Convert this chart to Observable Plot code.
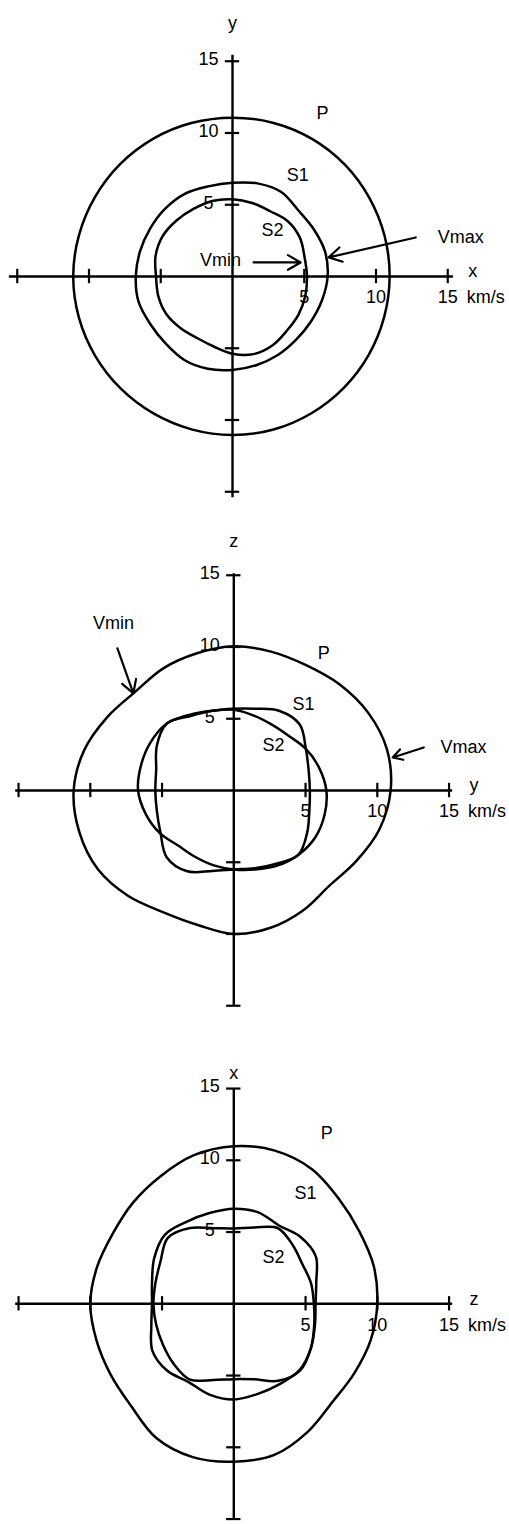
<!DOCTYPE html>
<html><head><meta charset="utf-8">
<script src="https://cdn.jsdelivr.net/npm/d3@7"></script>
<script src="https://cdn.jsdelivr.net/npm/@observablehq/plot@0.6"></script>
<style>
body{margin:0;background:#fff;}
#chart{width:509px;}
#chart svg{display:block;}
</style></head><body><div id="chart"></div>
<script>
// Direction of each velocity sample (degrees, counter-clockwise from the horizontal axis)
const angles = d3.range(0, 360, 15);

// Panel 1: x-y plane (km/s)
const xyP  = [10.95,10.97,11.0,11.05,11.08,11.08,11.07,11.07,11.08,11.08,11.07,11.08,11.1,11.08,11.05,11.03,11.02,11.03,11.05,11.04,11.0,10.97,10.95,10.94];
const xyS1 = [6.63,6.68,6.55,6.5,6.8,6.72,6.53,6.5,6.65,6.66,6.64,6.68,6.74,6.78,6.62,6.6,6.72,6.66,6.51,6.4,6.32,6.25,6.3,6.45];
const xyS2 = [5.19,5.2,5.42,5.45,5.25,5.3,5.38,5.45,5.44,5.52,5.62,5.55,5.33,5.35,5.3,5.1,4.95,5.05,5.38,5.6,5.55,5.35,5.31,5.25];
// Panel 2: y-z plane
const yzP  = [10.93,11.05,10.82,10.44,10.08,10.02,10.05,9.9,9.83,9.72,10.2,10.8,11.16,11.15,10.95,10.4,9.8,9.7,10.0,9.9,9.65,9.4,9.85,10.5];
const yzS1 = [6.45,6.15,5.8,5.4,5.3,5.4,5.62,5.75,6.1,6.6,6.7,6.7,6.67,6.35,5.95,5.45,5.35,5.4,5.5,5.7,6.05,6.35,6.55,6.55];
const yzS2 = [5.3,5.4,5.8,6.5,6.4,5.9,5.7,5.75,6.0,6.6,6.2,5.6,5.47,5.55,5.9,6.6,6.5,5.8,5.5,5.6,5.9,6.35,5.9,5.45];
// Panel 3: z-x plane
const zxP  = [10.0,10.1,10.1,10.35,10.85,11.05,10.98,10.72,10.25,9.95,9.75,9.87,10.0,9.9,9.9,10.1,10.8,11.06,11.0,10.9,10.3,9.7,9.69,9.87];
const zxS1 = [5.7,5.95,6.6,6.58,6.3,6.6,6.63,6.55,6.6,6.8,6.4,5.9,5.7,5.95,6.55,6.58,6.3,6.55,6.67,6.5,6.45,6.5,6.2,5.85];
const zxS2 = [5.58,5.57,5.52,5.8,6.1,5.5,5.25,5.45,6.1,6.5,5.9,5.65,5.6,5.6,5.7,5.92,6.1,5.5,5.25,5.45,6.2,6.55,6.2,5.8];

const ticks = [-15,-10,-5,5,10,15];
const tickLabels = [5,10,15];
const unitLabel = "km/s";

function toXY(vals){
  return vals.map((v,i)=>({x: v*Math.cos(angles[i]*Math.PI/180), y: v*Math.sin(angles[i]*Math.PI/180)}));
}

function panel(o){
  const k = 14.35;
  const [ox, oy] = o.origin;
  const marks = [
    Plot.ruleY([0], {x1: o.hExt[0], x2: o.hExt[1], strokeWidth: 2.4}),
    Plot.ruleX([0], {y1: o.vExt[0], y2: o.vExt[1], strokeWidth: 2.4}),
    Plot.ruleX(ticks, {y1: -0.5, y2: 0.5, strokeWidth: 2.2}),
    Plot.ruleY(ticks, {x1: -0.5, x2: 0.5, strokeWidth: 2.2}),
    Plot.text(tickLabels, {x: d=>d, y: 0, dy: 21, text: d=>String(d)}),
    Plot.text(tickLabels, {x: 0, y: d=>d, dx: -24, dy: -2, text: d=>String(d)}),
    Plot.text([unitLabel], {x: 15, y: 0, dx: 57, dy: 21, textAnchor: "end"}),
    Plot.text([o.hLabel], {x: 15, y: 0, dx: 25, dy: -5}),
    Plot.text([o.vLabel], {x: 0, y: 15, dy: o.vLabelDy}),
    ...o.curves.map(c => Plot.line(toXY(c), {x: "x", y: "y", curve: "catmull-rom-closed", strokeWidth: 2.5, strokeLinejoin: "round"})),
    Plot.text(o.notes, {x: "x", y: "y", text: "t"}),
    Plot.arrow(o.arrows, {x1: "x1", y1: "y1", x2: "x2", y2: "y2", strokeWidth: 2.2, headLength: 10})
  ];
  return Plot.plot({
    width: 509, height: 508, margin: 0,
    x: {domain: [-16,16], range: [ox-16*k, ox+16*k], axis: null},
    y: {domain: [-16,16], range: [oy+16*k, oy-16*k], axis: null},
    style: {fontFamily: "'Liberation Sans', Arial, sans-serif", fontSize: "18px", background: "white", color: "black"},
    marks
  });
}

const root = document.getElementById("chart");
root.append(panel({
  origin: [232, 276], hExt: [-15.55, 15.4], vExt: [-15.42, 15.42],
  hLabel: "x", vLabel: "y", vLabelDy: -38,
  curves: [xyP, xyS1, xyS2],
  notes: [{t:"P",x:6.28,y:11.37},{t:"S1",x:4.54,y:7.05},{t:"S2",x:2.79,y:3.21},{t:"Vmax",x:15.9,y:2.72},{t:"Vmin",x:-0.84,y:1.12}],
  arrows: [{x1:12.77,y1:2.72,x2:6.7,y2:1.33},{x1:1.47,y1:0.98,x2:4.75,y2:0.98}]
}));
root.append(panel({
  origin: [233.3, 282], hExt: [-15.2, 15.25], vExt: [-15.05, 15.1],
  hLabel: "y", vLabel: "z", vLabelDy: -34,
  curves: [yzP, yzS1, yzS2],
  notes: [{t:"P",x:6.26,y:9.56},{t:"S1",x:4.86,y:6.0},{t:"S2",x:2.77,y:3.14},{t:"Vmin",x:-8.39,y:11.65},{t:"Vmax",x:16.0,y:3.0}],
  arrows: [{x1:-8.11,y1:9.91,x2:-7.0,y2:6.77},{x1:13.24,y1:3.0,x2:11.07,y2:2.3}]
}));
root.append(panel({
  origin: [233.3, 287.3], hExt: [-15.2, 15.25], vExt: [-15.1, 15.0],
  hLabel: "z", vLabel: "x", vLabelDy: -15,
  curves: [zxP, zxS1, zxS2],
  notes: [{t:"P",x:6.47,y:11.88},{t:"S1",x:5.0,y:7.7},{t:"S2",x:2.77,y:3.23}],
  arrows: []
}));
</script></body></html>
